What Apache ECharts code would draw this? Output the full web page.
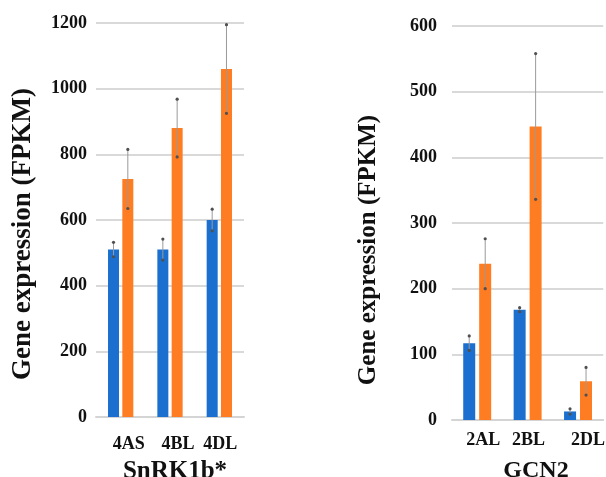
<!DOCTYPE html>
<html>
<head>
<meta charset="utf-8">
<script src="https://cdn.jsdelivr.net/npm/echarts@6/dist/echarts.min.js"></script>
<style>
html,body{margin:0;padding:0;background:#fff;}
#c{width:606px;height:477px;}
</style>
</head>
<body>
<div id="c"></div>
<script>
// ---- data ----
var categoriesA = ['4AS', '4BL', '4DL'];
var blueA = [510, 510, 600];
var blueErrA = [22, 32, 33];
var orangeA = [725, 880, 1060];
var orangeErrA = [90, 88, 135];
var yTicksA = {min: 0, max: 1200, interval: 200};

var categoriesB = ['2AL', '2BL', '2DL'];
var blueB = [117, 168, 13];
var blueErrB = [11, 3, 4];
var orangeB = [238, 447, 59];
var orangeErrB = [38, 111, 21];
var yTicksB = {min: 0, max: 600, interval: 100};

var titleY = 'Gene expression (FPKM)';
var titleXA = 'SnRK1b*';
var titleXB = 'GCN2';

// ---- styles ----
var BLUE = '#1b6fce';
var ORANGE = '#fe7c22';
var FONT = '"Liberation Serif", "Times New Roman", serif';
var GRID_COLOR = '#d9d9d9';
var LABEL_SHIFT_A = [16, 16, 2];   // horizontal label nudges (px padding) to match reference
var LABEL_SHIFT_B = [12, 2, 20];

function errData(vals, errs) {
  return vals.map(function (v, i) { return [i, v - errs[i], v + errs[i]]; });
}

function errSeries(xi, yi, data, dx) {
  return {
    type: 'custom',
    xAxisIndex: xi, yAxisIndex: yi,
    data: data,
    z: 10,
    silent: true,
    renderItem: function (params, api) {
      var lo = api.coord([api.value(0), api.value(1)]);
      var hi = api.coord([api.value(0), api.value(2)]);
      var x = lo[0] + dx;
      return {
        type: 'group',
        children: [
          {type: 'line', shape: {x1: x, y1: hi[1], x2: x, y2: lo[1]},
           style: {stroke: '#9a9a9a', lineWidth: 1}},
          {type: 'circle', shape: {cx: x, cy: hi[1], r: 1.6}, style: {fill: '#505050'}},
          {type: 'circle', shape: {cx: x, cy: lo[1], r: 1.6}, style: {fill: '#505050'}}
        ]
      };
    }
  };
}

function yAxis(idx, ticks, margin) {
  return {
    type: 'value', gridIndex: idx,
    min: ticks.min, max: ticks.max, interval: ticks.interval,
    axisLine: {show: false}, axisTick: {show: false},
    axisLabel: {margin: margin, color: '#111', fontFamily: FONT, fontWeight: 'bold', fontSize: 18,
      formatter: function (v) { return String(v); }},
    splitLine: {lineStyle: {color: GRID_COLOR, width: 2}}
  };
}

function xAxis(idx, cats, margin, shifts) {
  var rich = {};
  shifts.forEach(function (s, i) {
    rich['s' + i] = {padding: [0, 0, 0, s], color: '#111', fontFamily: FONT, fontWeight: 'bold', fontSize: 18};
  });
  return {
    type: 'category', gridIndex: idx, data: cats,
    axisLine: {lineStyle: {color: '#d4d4d4', width: 2}},
    axisTick: {show: false},
    axisLabel: {interval: 0, hideOverlap: false, margin: margin, color: '#111', fontFamily: FONT, fontWeight: 'bold', fontSize: 18,
      formatter: function (v, i) { return '{s' + i + '|' + v + '}'; },
      rich: rich}
  };
}

var chart = echarts.init(document.getElementById('c'), null, {renderer: 'canvas'});
chart.setOption({
  animation: false,
  backgroundColor: '#fff',
  grid: [
    {left: 96, top: 23, width: 148, height: 394},
    {left: 452, top: 26, width: 163.5, height: 394}
  ],
  xAxis: [xAxis(0, categoriesA, 18, LABEL_SHIFT_A), xAxis(1, categoriesB, 11, LABEL_SHIFT_B)],
  yAxis: [yAxis(0, yTicksA, 9), yAxis(1, yTicksB, 15)],
  series: [
    {type: 'bar', xAxisIndex: 0, yAxisIndex: 0, data: blueA, barWidth: 11, barGap: '30%',
     itemStyle: {color: BLUE}},
    {type: 'bar', xAxisIndex: 0, yAxisIndex: 0, data: orangeA, barWidth: 11, barGap: '30%',
     itemStyle: {color: ORANGE}},
    {type: 'bar', xAxisIndex: 1, yAxisIndex: 1, data: blueB, barWidth: 12, barGap: '33%',
     itemStyle: {color: BLUE}},
    {type: 'bar', xAxisIndex: 1, yAxisIndex: 1, data: orangeB, barWidth: 12, barGap: '33%',
     itemStyle: {color: ORANGE}},
    errSeries(0, 0, errData(blueA, blueErrA), -7.15),
    errSeries(0, 0, errData(orangeA, orangeErrA), 7.15),
    errSeries(1, 1, errData(blueB, blueErrB), -8),
    errSeries(1, 1, errData(orangeB, orangeErrB), 8)
  ],
  graphic: [
    {type: 'text', x: 23, y: 234, rotation: Math.PI / 2,
     style: {text: titleY, fill: '#111', font: 'bold 27px ' + FONT, textAlign: 'center', textVerticalAlign: 'middle'}},
    {type: 'text', x: 369, y: 250, rotation: Math.PI / 2,
     style: {text: titleY, fill: '#111', font: 'bold 25px ' + FONT, textAlign: 'center', textVerticalAlign: 'middle'}},
    {type: 'text', x: 175, y: 459,
     style: {text: titleXA, fill: '#111', font: 'bold 25px ' + FONT, textAlign: 'center', textVerticalAlign: 'top'}},
    {type: 'text', x: 536, y: 459,
     style: {text: titleXB, fill: '#111', font: 'bold 24px ' + FONT, textAlign: 'center', textVerticalAlign: 'top'}}
  ]
});
</script>
</body>
</html>
